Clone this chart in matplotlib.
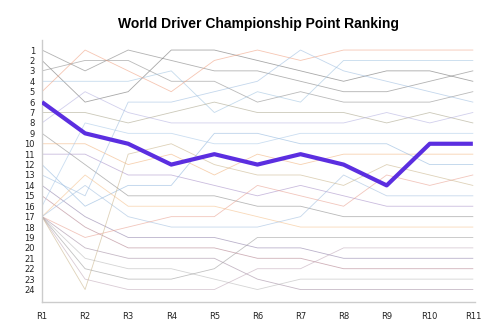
import matplotlib.pyplot as plt

rounds = ["R1", "R2", "R3", "R4", "R5", "R6", "R7", "R8", "R9", "R10", "R11"]

# Championship position of each driver after every round
rank_a = [1, 3, 1, 2, 3, 3, 4, 5, 5, 4, 3]
rank_b = [2, 6, 5, 1, 1, 2, 3, 4, 3, 3, 4]
rank_c = [3, 2, 2, 4, 4, 6, 5, 6, 6, 6, 5]
rank_d = [4, 4, 4, 3, 7, 5, 6, 2, 2, 2, 2]
rank_e = [5, 1, 3, 5, 2, 1, 2, 1, 1, 1, 1]
rank_g = [7, 7, 8, 7, 6, 7, 7, 7, 8, 7, 8]
rank_h = [8, 5, 7, 8, 8, 8, 8, 8, 7, 8, 7]
rank_i = [9, 12, 15, 15, 15, 16, 16, 17, 17, 17, 17]
rank_j = [10, 10, 12, 11, 13, 11, 12, 11, 11, 11, 11]
rank_k = [11, 11, 13, 13, 14, 15, 14, 15, 16, 16, 16]
rank_l = [12, 16, 14, 14, 9, 9, 10, 10, 10, 12, 12]
rank_m = [13, 15, 6, 6, 5, 4, 1, 3, 4, 5, 6]
rank_n = [14, 17, 19, 19, 19, 20, 20, 21, 21, 21, 21]
rank_o = [15, 18, 20, 20, 20, 21, 21, 22, 22, 22, 22]
rank_q = [16, 8, 9, 9, 10, 10, 9, 9, 9, 9, 9]
rank_r = [17, 13, 16, 16, 16, 17, 18, 18, 18, 18, 18]
rank_s = [17, 14, 17, 18, 18, 18, 17, 13, 15, 15, 15]
rank_t = [17, 19, 18, 17, 17, 14, 15, 16, 13, 14, 13]
rank_u = [17, 20, 21, 21, 21, 23, 24, 24, 24, 24, 24]
rank_v = [17, 21, 22, 22, 23, 24, 23, 23, 23, 23, 23]
rank_w = [17, 22, 23, 23, 22, 19, 19, 19, 19, 19, 19]
rank_x = [17, 23, 24, 24, 24, 22, 22, 20, 20, 20, 20]
rank_y = [17, 24, 11, 10, 12, 13, 13, 14, 12, 13, 14]
highlight = [6, 9, 10, 12, 11, 12, 11, 12, 14, 10, 10]

others = [rank_a, rank_b, rank_c, rank_d, rank_e, rank_g, rank_h, rank_i,
          rank_j, rank_k, rank_l, rank_m, rank_n, rank_o, rank_q, rank_r,
          rank_s, rank_t, rank_u, rank_v, rank_w, rank_x, rank_y]
colors = ["#7f7f7f", "#6e6e6e", "#8c8c8c", "#9fc3e0", "#f0a080", "#a9a48a",
          "#b3b0e0", "#8a8a8a", "#f2b37c", "#a78fc8", "#8fb6dd", "#9dbde0",
          "#8d7fa8", "#b07d8a", "#a8c8e8", "#f5c08a", "#a0bedf", "#e9a090",
          "#a08aa0", "#b8b8b8", "#9a9a9a", "#c0a8b8", "#c9b48a"]

fig = plt.figure(figsize=(5, 3.33), dpi=100)
ax = fig.add_axes([0.084, 0.093, 0.866, 0.788])

x = list(range(len(rounds)))
for ranks, color in zip(others, colors):
    ax.plot(x, ranks, color=color, lw=0.6, alpha=0.6)
ax.plot(x, highlight, color="#5b2ee0", lw=3.0, solid_capstyle="butt", zorder=5)

ax.set_xlim(0, 10.05)
ax.set_ylim(25.2, 0)
ax.set_xticks(x)
ax.set_xticklabels(rounds)
ax.set_yticks(range(1, 25))
ax.tick_params(length=0, labelsize=6, pad=5, colors="#222222")
ax.tick_params(axis="x", pad=7)
for side in ["top", "right"]:
    ax.spines[side].set_visible(False)
for side in ["left", "bottom"]:
    ax.spines[side].set_color("#cccccc")
    ax.spines[side].set_linewidth(1.0)

fig.suptitle("World Driver Championship Point Ranking", x=0.516, y=0.95,
             fontsize=10, fontweight="bold", family="Liberation Sans")
fig.savefig("out.png", dpi=100)
